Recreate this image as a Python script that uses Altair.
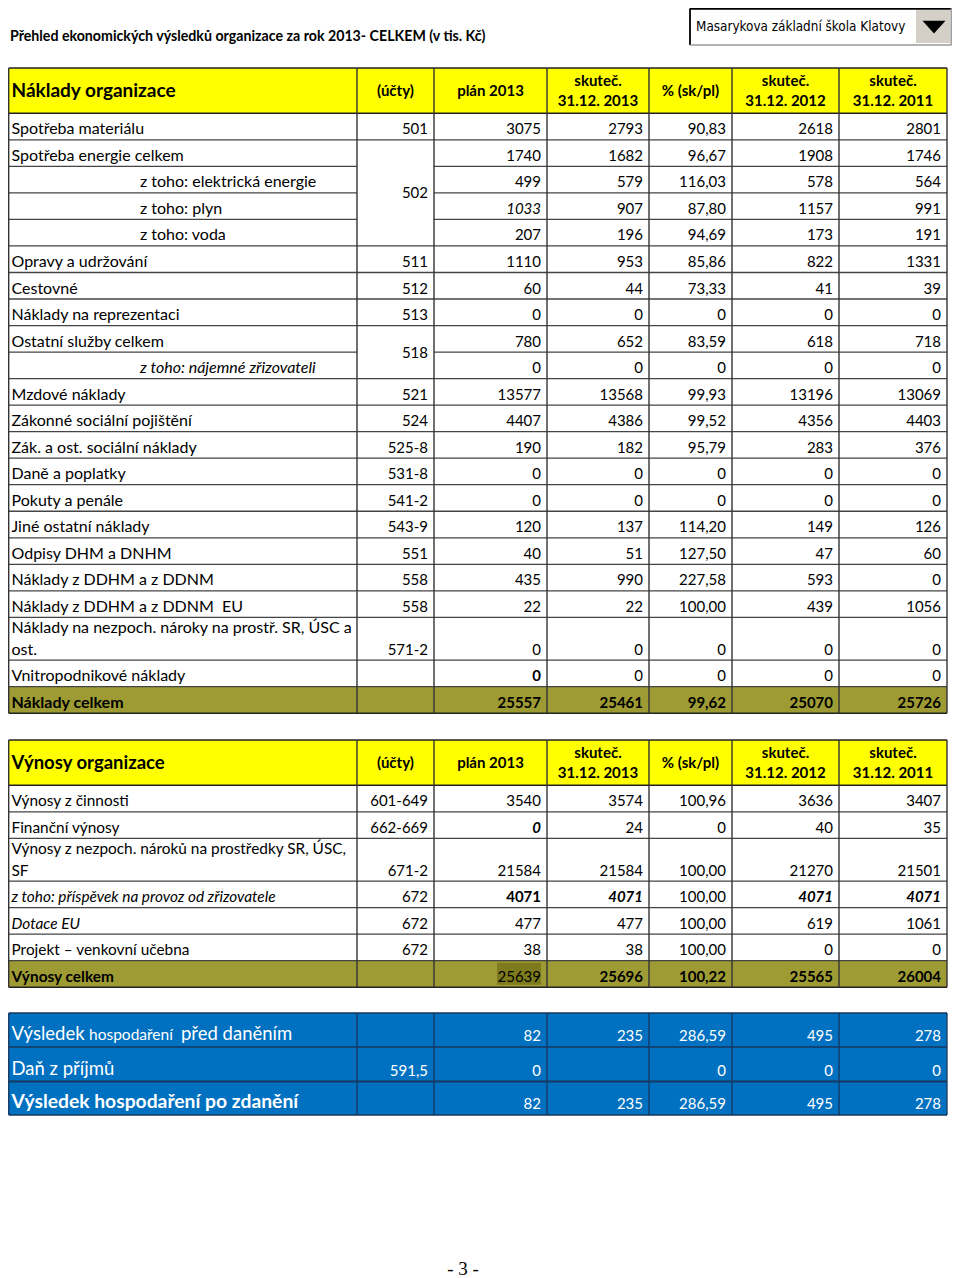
import altair as alt
import pandas as pd

# ------------------------------------------------------------------ data
title_text = "Přehled ekonomických výsledků organizace za rok 2013- CELKEM (v tis. Kč)"
dropdown_text = "Masarykova základní škola Klatovy"
page_label = "- 3 -"

col_heads = ["(účty)", "plán 2013", "skuteč.\n31.12. 2013", "% (sk/pl)",
             "skuteč.\n31.12. 2012", "skuteč.\n31.12. 2011"]

cost_title = "Náklady organizace"
cost_labels = [
    "Spotřeba materiálu", "Spotřeba energie celkem", "z toho: elektrická energie",
    "z toho: plyn", "z toho: voda", "Opravy a udržování", "Cestovné",
    "Náklady na reprezentaci", "Ostatní služby celkem", "z toho: nájemné zřizovateli",
    "Mzdové náklady", "Zákonné sociální pojištění", "Zák. a ost. sociální náklady",
    "Daně a poplatky", "Pokuty a penále", "Jiné ostatní náklady", "Odpisy DHM a DNHM",
    "Náklady z DDHM a z DDNM", "Náklady z DDHM a z DDNM \u00a0EU",
    "Náklady na nezpoch. nároky na prostř. SR, ÚSC a\nost.",
    "Vnitropodnikové náklady", "Náklady celkem",
]
cost_accounts = ["501", "502", "", "", "", "511", "512", "513", "518", "", "521", "524",
                 "525-8", "531-8", "541-2", "543-9", "551", "558", "558", "571-2", "", ""]
cost_plan = [3075, 1740, 499, 1033, 207, 1110, 60, 0, 780, 0, 13577, 4407, 190, 0, 0,
             120, 40, 435, 22, 0, 0, 25557]
cost_act13 = [2793, 1682, 579, 907, 196, 953, 44, 0, 652, 0, 13568, 4386, 182, 0, 0,
              137, 51, 990, 22, 0, 0, 25461]
cost_pct = ["90,83", "96,67", "116,03", "87,80", "94,69", "85,86", "73,33", "0", "83,59",
            "0", "99,93", "99,52", "95,79", "0", "0", "114,20", "127,50", "227,58",
            "100,00", "0", "0", "99,62"]
cost_act12 = [2618, 1908, 578, 1157, 173, 822, 41, 0, 618, 0, 13196, 4356, 283, 0, 0,
              149, 47, 593, 439, 0, 0, 25070]
cost_act11 = [2801, 1746, 564, 991, 191, 1331, 39, 0, 718, 0, 13069, 4403, 376, 0, 0,
              126, 60, 0, 1056, 0, 0, 25726]

rev_title = "Výnosy organizace"
rev_labels = [
    "Výnosy z činnosti", "Finanční výnosy",
    "Výnosy z nezpoch. nároků na prostředky SR, ÚSC,\nSF",
    "z toho: příspěvek na provoz od zřizovatele", "Dotace EU",
    "Projekt – venkovní učebna", "Výnosy celkem",
]
rev_accounts = ["601-649", "662-669", "671-2", "672", "672", "672", ""]
rev_plan = [3540, 0, 21584, 4071, 477, 38, 25639]
rev_act13 = [3574, 24, 21584, 4071, 477, 38, 25696]
rev_pct = ["100,96", "0", "100,00", "100,00", "100,00", "100,00", "100,22"]
rev_act12 = [3636, 40, 21270, 4071, 619, 0, 25565]
rev_act11 = [3407, 35, 21501, 4071, 1061, 0, 26004]

res_label_parts = [["Výsledek", "hospodaření", "před daněním"], ["Daň z příjmů"],
                   ["Výsledek hospodaření po zdanění"]]
res_accounts = ["", "591,5", ""]
res_plan = ["82", "0", "82"]
res_act13 = ["235", "", "235"]
res_pct = ["286,59", "0", "286,59"]
res_act12 = ["495", "0", "495"]
res_act11 = ["278", "0", "278"]

# ------------------------------------------------------------------ layout
FONT = "Lato"
X0, X1 = 8, 952
Y0, Y1 = 8, 1278
COLS = [8.7, 357, 434, 547, 649, 732, 839, 947]
ROW = 26.53
LABEL_X = 11.5
INDENT_X = 140
YELLOW = "#FFFF00"
OLIVE = "#9E9B34"
OLIVE_DARK = "#7E7B1E"
BLUE = "#0070C0"
GRID = "#454545"
NAVY = "#17375E"

T1_TOP, T1_HB = 68, 113.3
t1_heights = [ROW] * 19 + [42.7, ROW, ROW]
T2_TOP, T2_HB = 740, 785.3
t2_heights = [ROW, ROW, 42.7, ROW, ROW, ROW, ROW]
T3_TOP = 1013
t3_heights = [34, 34.5, 33.5]


def edges(top, heights):
    e = [top]
    for h in heights:
        e.append(e[-1] + h)
    return e


texts, rects, rules = [], [], []


def T(x, y, t, align="left", weight="normal", style="normal", size=15,
      color="#000000", font=FONT):
    texts.append(dict(x=x, y=y, t=t, align=align, weight=weight, style=style,
                      size=size, color=color, font=font))


def R(x, x2, y, y2, fill):
    rects.append(dict(x=x, x2=x2, y=y, y2=y2, fill=fill))


def L(x, x2, y, y2, c=GRID, w=1.3):
    rules.append(dict(x=x, x2=x2, y=y, y2=y2, c=c, w=w))


def fmt(v):
    return "" if v is None else str(v)


def data_table(top, hb, heights, title, labels, accounts, cols, indent, italic_labels,
               overrides, merges, total_plain, title_size, label_size):
    e = edges(hb, heights)
    R(COLS[0], COLS[-1], top, hb, YELLOW)
    R(COLS[0], COLS[-1], e[-2], e[-1], OLIVE)
    T(LABEL_X, hb - 16, title, weight="bold", size=title_size)
    for i, h in enumerate(col_heads):
        cx = (COLS[i + 1] + COLS[i + 2]) / 2
        parts = h.split("\n")
        if len(parts) == 2:
            T(cx, hb - 27.5, parts[0], "center", "bold")
            T(cx, hb - 7, parts[1], "center", "bold")
        else:
            T(cx, hb - 17, parts[0], "center", "bold")
    n = len(labels)
    merged_inner = set()
    for a, b in merges:
        for k in range(a + 1, b + 1):
            merged_inner.add(k)
    for i, lab in enumerate(labels):
        bot = e[i + 1]
        total = i == n - 1
        w = "bold" if total else "normal"
        st = "italic" if i in italic_labels else "normal"
        lines = lab.split("\n")
        lx = INDENT_X if i in indent else LABEL_X
        for k, ln in enumerate(lines):
            T(lx, bot - 5.5 - 22 * (len(lines) - 1 - k), ln, weight=w, style=st,
              size=label_size)
        acc = accounts[i]
        if acc:
            span = [m for m in merges if m[0] == i]
            if span:
                a, b = span[0]
                yy = (e[a] + e[b + 1]) / 2 + 5.5
            else:
                yy = bot - 5.5
            T(COLS[2] - 6, yy, acc, "right", weight=w)
        for j, col in enumerate(cols):
            ww, ss = overrides.get((i, j), (w, "normal"))
            if total and (i, j) in total_plain:
                ww = "normal"
            T(COLS[j + 3] - 6, bot - 5.5, fmt(col[i]), "right", weight=ww, style=ss)
    L(COLS[0], COLS[-1], top, top, "#222222", 1.5)
    for k, y in enumerate(e):
        if k in merged_inner:
            L(COLS[0], COLS[1], y, y)
            L(COLS[2], COLS[-1], y, y)
        else:
            edge = k in (0, len(e) - 1)
            L(COLS[0], COLS[-1], y, y, "#222222" if edge else GRID, 1.5 if edge else 1.3)
    for x in COLS:
        L(x, x, top, e[-1], "#333333", 1.4)
    return e


e1 = data_table(T1_TOP, T1_HB, t1_heights, cost_title, cost_labels, cost_accounts,
                [cost_plan, cost_act13, cost_pct, cost_act12, cost_act11],
                indent={2, 3, 4, 9}, italic_labels={9},
                overrides={(3, 0): ("normal", "italic"), (20, 0): ("bold", "normal")},
                merges=[(1, 4), (8, 9)], total_plain=set(), title_size=19,
                label_size=16)

e2 = data_table(T2_TOP, T2_HB, t2_heights, rev_title, rev_labels, rev_accounts,
                [rev_plan, rev_act13, rev_pct, rev_act12, rev_act11],
                indent=set(), italic_labels={3, 4},
                overrides={(1, 0): ("bold", "italic"), (3, 0): ("bold", "normal"),
                           (3, 1): ("bold", "italic"), (3, 3): ("bold", "italic"),
                           (3, 4): ("bold", "italic")},
                merges=[], total_plain={(6, 0)}, title_size=18.5, label_size=15.4)
# highlighted cell in the revenue total row
R(COLS[3] - 50, COLS[3] - 6, e2[-2] + 2, e2[-1] - 2.5, OLIVE_DARK)

# result table (blue)
e3 = edges(T3_TOP, t3_heights)
R(COLS[0], COLS[-1], e3[0], e3[-1], BLUE)
part_x = [LABEL_X, 89, 181]
part_size = [18.5, 15.5, 18.5]
for i, parts in enumerate(res_label_parts):
    bot = e3[i + 1]
    if len(parts) > 1:
        for p, px, ps in zip(parts, part_x, part_size):
            T(px, bot - 7, p, size=ps, color="#FFFFFF")
    else:
        bold = i == 2
        T(LABEL_X, bot - 7, parts[0], size=19.3 if bold else 18.5, color="#FFFFFF",
          weight="bold" if bold else "normal")
    if res_accounts[i]:
        T(COLS[2] - 6, bot - 6, res_accounts[i], "right", color="#FFFFFF")
    for j, col in enumerate([res_plan, res_act13, res_pct, res_act12, res_act11]):
        if col[i]:
            T(COLS[j + 3] - 6, bot - 6, col[i], "right", color="#FFFFFF")
for k, y in enumerate(e3):
    L(COLS[0], COLS[-1], y, y, NAVY, 2.2 if k == 2 else 1.3)
for x in COLS:
    L(x, x, e3[0], e3[-1], NAVY, 1.3)

# page title
T(10, 40.5, title_text, weight="bold", size=14.2)

# dropdown box
R(690, 951.5, 8.5, 45, "#FFFFFF")
R(916, 950, 10, 43, "#D4D0C8")
L(690, 951.5, 8.9, 8.9, "#000000", 1.8)
L(690, 690, 8.5, 45, "#000000", 1.8)
L(690, 951.5, 45, 45, "#9A9A9A", 1.5)
L(951.2, 951.2, 8.5, 45, "#9A9A9A", 1.5)
T(696, 31, dropdown_text, size=13.4,
  font="Liberation Sans Narrow, DejaVu Sans Condensed, sans-serif")

# page number
T(463, 1275, page_label, "center", size=19, font="Liberation Serif, serif")

# ------------------------------------------------------------------ chart
XS = alt.Scale(domain=[X0, X1], nice=False, zero=False)
YS = alt.Scale(domain=[Y0, Y1], nice=False, zero=False, reverse=True)

rect_df = pd.DataFrame(rects)
rule_df = pd.DataFrame(rules)
text_df = pd.DataFrame(texts)

layers = [
    alt.Chart(rect_df).mark_rect().encode(
        x=alt.X("x:Q", scale=XS, axis=None), x2="x2:Q",
        y=alt.Y("y:Q", scale=YS, axis=None), y2="y2:Q",
        color=alt.Color("fill:N", scale=None)),
    alt.Chart(rule_df).mark_rule().encode(
        x=alt.X("x:Q", scale=XS, axis=None), x2="x2:Q",
        y=alt.Y("y:Q", scale=YS, axis=None), y2="y2:Q",
        color=alt.Color("c:N", scale=None),
        strokeWidth=alt.StrokeWidth("w:Q", scale=None)),
    alt.Chart(pd.DataFrame({"x": [934], "y": [26.5]})).mark_point(
        shape="M-1,-0.5L1,-0.5L0,0.6Z", filled=True, color="#000000", opacity=1,
        size=530).encode(
        x=alt.X("x:Q", scale=XS, axis=None), y=alt.Y("y:Q", scale=YS, axis=None)),
]

groups = text_df.groupby(["align", "weight", "style", "font"])
for (al, wt, stl, fnt), g in groups:
    layers.append(
        alt.Chart(g.reset_index(drop=True)).mark_text(
            align=al, baseline="alphabetic", fontWeight=wt, fontStyle=stl, font=fnt
        ).encode(
            x=alt.X("x:Q", scale=XS, axis=None),
            y=alt.Y("y:Q", scale=YS, axis=None),
            text="t:N",
            size=alt.Size("size:Q", scale=None),
            color=alt.Color("color:N", scale=None),
        )
    )

chart = alt.layer(*layers).properties(
    width=X1 - X0, height=Y1 - Y0, padding=0,
    autosize=alt.AutoSizeParams(type="none"),
).configure_view(stroke=None)

chart.save("out.html", embed_options={"renderer": "svg", "actions": False})
